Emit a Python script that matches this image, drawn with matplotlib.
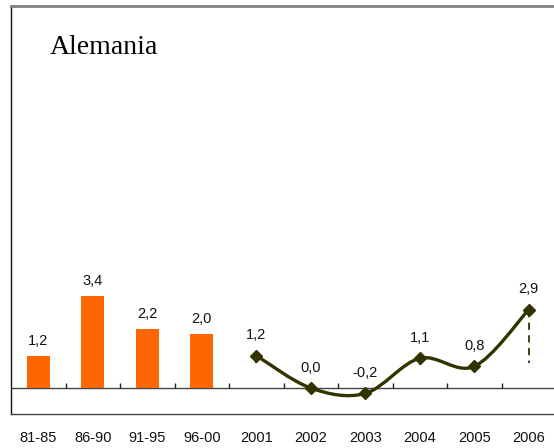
import numpy as np
import matplotlib
matplotlib.use("Agg")
import matplotlib.pyplot as plt
from matplotlib.path import Path
from matplotlib.patches import PathPatch

# ---- data ----
categories = ["81-85", "86-90", "91-95", "96-00", "2001", "2002", "2003", "2004", "2005", "2006"]
bar_values = [1.2, 3.4, 2.2, 2.0]
line_values = [1.2, 0.0, -0.2, 1.1, 0.8, 2.9]
line_low = [0.89, None, None, 0.85, None, 0.92]
title = "Alemania"

bar_color = "#FF6600"
line_color = "#333300"


def fmt(v):
    return f"{v:.1f}".replace(".", ",")


fig = plt.figure(figsize=(5.54, 4.48), dpi=100)
ax = fig.add_axes([11 / 554, 1 - 414 / 448, 545 / 554, (414 - 6) / 448])
ax.set_xlim(-0.5, len(categories) - 0.5)
ax.set_ylim(-0.96, 14.12)

# bars
bx = np.arange(len(bar_values))
ax.bar(bx, bar_values, width=0.42, color=bar_color, zorder=3)
for x, v in zip(bx, bar_values):
    ax.annotate(fmt(v), (x, v), xytext=(0, 10.5), textcoords="offset points",
                ha="center", va="center", fontsize=10.5, family="Liberation Sans", color="#111111")

# smoothed line (Catmull-Rom style bezier, like spreadsheet smoothing)
lx = np.arange(len(bar_values), len(categories))
ly = np.array(line_values, dtype=float)
pts = np.column_stack([lx, ly])
verts = [tuple(pts[0])]
codes = [Path.MOVETO]
n = len(pts)
for i in range(n - 1):
    p0 = pts[i - 1] if i > 0 else pts[i]
    p1 = pts[i]
    p2 = pts[i + 1]
    p3 = pts[i + 2] if i + 2 < n else pts[i + 1]
    c1 = p1 + (p2 - p0) / 6.0
    c2 = p2 - (p3 - p1) / 6.0
    verts += [tuple(c1), tuple(c2), tuple(p2)]
    codes += [Path.CURVE4] * 3
ax.add_patch(PathPatch(Path(verts, codes), facecolor="none", edgecolor=line_color,
                       lw=2.4, zorder=4, capstyle="round", joinstyle="round"))

# low drop lines
for x, v, lo in zip(lx, line_values, line_low):
    if lo is not None:
        ax.plot([x, x], [v, lo], color=line_color, lw=1.3, ls=(0, (4, 3)), zorder=3)

ax.plot(lx, ly, ls="none", marker="D", markersize=6.5, color=line_color, zorder=5)
for x, v in zip(lx, line_values):
    ax.annotate(fmt(v), (x, v), xytext=(0, 14.5), textcoords="offset points",
                ha="center", va="center", fontsize=10.5, family="Liberation Sans", color="#111111")

# zero line and category separators
ax.axhline(0, color="#444444", lw=1.0, zorder=2)
sep = np.arange(0.5, len(categories) - 1, 1.0)
ax.vlines(sep, 0, 0.19, color="#222222", lw=1.0, zorder=2)

# axes styling
ax.set_xticks(np.arange(len(categories)))
ax.set_xticklabels(categories, family="Liberation Sans", fontsize=10.5, color="#111111")
ax.tick_params(axis="x", length=0, pad=12.5)
ax.set_yticks([])
ax.spines["right"].set_visible(False)
ax.spines["top"].set_color("#808080")
ax.spines["top"].set_linewidth(2.0)
ax.spines["left"].set_color("#111111")
ax.spines["left"].set_linewidth(1.0)
ax.spines["bottom"].set_color("#444444")
ax.spines["bottom"].set_linewidth(1.0)

fig.text(50 / 554, 1 - 48 / 448, title, family="Liberation Serif", fontsize=20,
         ha="left", va="center", color="#000000")

fig.savefig("out.png", dpi=100)
